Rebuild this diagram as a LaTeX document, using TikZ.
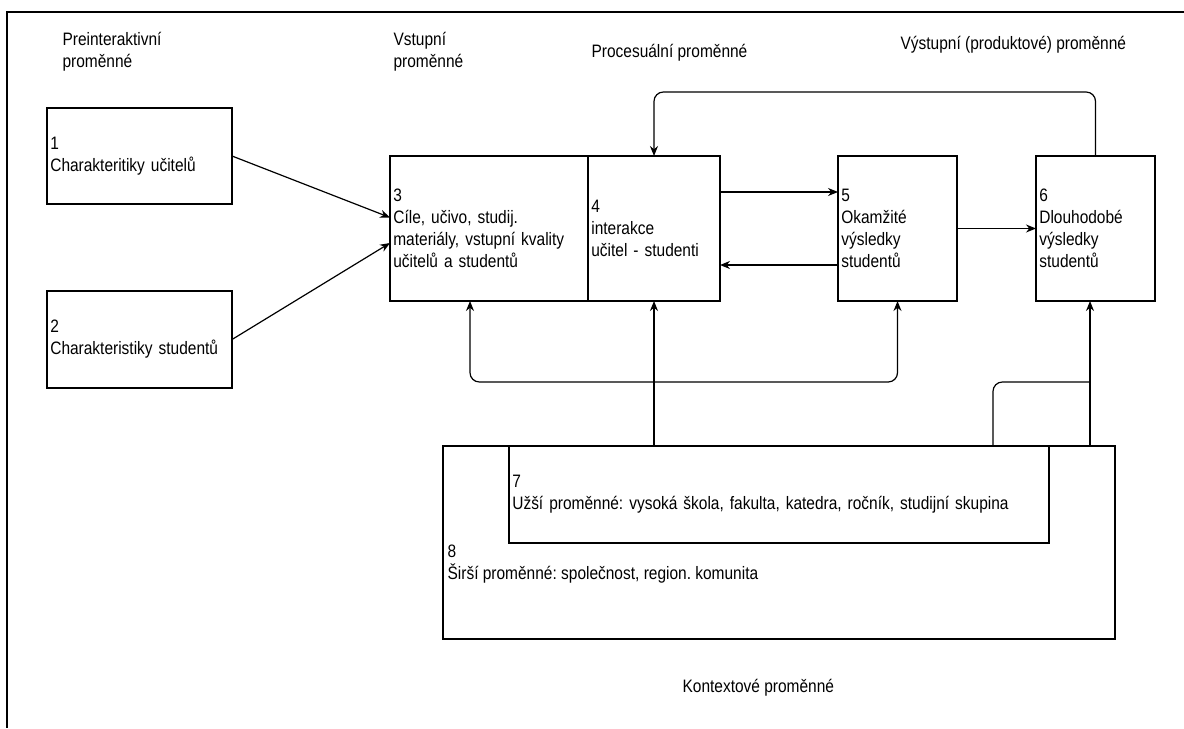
\documentclass[tikz,border=0pt]{standalone}
\usepackage{fontspec}
\setmainfont{Liberation Sans}[FakeStretch=0.86]
\frenchspacing
\usetikzlibrary{calc,positioning,arrows.meta}

\begin{document}
\begin{tikzpicture}[x=0.75pt,y=-0.75pt,line width=0.9pt,
  every node/.style={align=left,font=\fontsize{13.5}{16.5}\selectfont},
  box/.style={draw,rectangle,inner xsep=2.5pt,inner ysep=0pt,outer sep=0pt},
  caption/.style={anchor=west,inner sep=0pt},
  arr/.style={-{Stealth[length=7.5pt,width=6pt]}},
  dblarr/.style={{Stealth[length=7.5pt,width=6pt]}-{Stealth[length=7.5pt,width=6pt]}}]
\useasboundingbox (0,0) rectangle (1184,728);
\draw (1184,12) -- (7,12) -- (7,728);

% nadpisy skupin
\node [caption] (LabelPre) at (62,52) {Preinteraktivní\\proměnné};
\node [caption] (LabelInput) at (393,52) {Vstupní\\proměnné};
\node [caption] (LabelProcess) at (591,53) {Procesuální proměnné};
\node [caption] (LabelOutput) at (900,45) {Výstupní (produktové) proměnné};
\node [caption] (LabelContext) at (682,688) {Kontextové proměnné};

% promenne
\node [box,text width=133.75pt,minimum height=72pt] (Teachers) at (139.5,156) {1\\Charakteritiky učitelů};
\node [box,text width=133.75pt,minimum height=72.75pt] (Students) at (139.5,339.5) {2\\Charakteristiky studentů};
\node [box,text width=143.5pt,minimum height=108.75pt] (Inputs) at (489,228.5) {3\\Cíle, učivo, studij.\\materiály, vstupní kvality\\učitelů a studentů};
\node [box,text width=94pt,minimum height=108.75pt,right=0pt of Inputs] (Interaction) {4\\interakce\\učitel - studenti};
\node [box,text width=84.25pt,minimum height=108.75pt] (ShortResults) at (897.5,228.5) {5\\Okamžité\\výsledky\\studentů};
\node [box,text width=84.25pt,minimum height=108.75pt] (LongResults) at (1095.5,228.5) {6\\Dlouhodobé\\výsledky\\studentů};
\node [box,minimum width=504pt,minimum height=144.75pt] (WideContext) at (779,542.5) {};
\node [caption] (WideText) at ($(WideContext.west)+(4,22)$) {8\\Širší proměnné: společnost, region. komunita};
\node [box,fill=white,text width=400pt,minimum height=72.75pt] (NarrowContext) at (779,494.5) {7\\Užší proměnné: vysoká škola, fakulta, katedra, ročník, studijní skupina};

% vazby
\draw [arr] (Teachers.east) -- ($(Inputs.west)+(0,-11)$);
\draw [arr] (Students.east) -- ($(Inputs.west)+(0,14.5)$);
\draw [arr] ($(Interaction.east)+(0,-36.5)$) -- ($(ShortResults.west)+(0,-36.5)$);
\draw [arr] ($(ShortResults.west)+(0,36.5)$) -- ($(Interaction.east)+(0,36.5)$);
\draw [arr] (ShortResults.east) -- (LongResults.west);
\draw [arr,rounded corners=7pt] (LongResults.north) -- ++(0,-64) -| (Interaction.north);
\draw [dblarr,rounded corners=7pt] ($(Inputs.south)+(-19,0)$) |- ($(ShortResults.south)+(0,81)$) -- (ShortResults.south);
\draw [arr] (NarrowContext.north -| Interaction.south) -- (Interaction.south);
\coordinate (Merge) at ($(LongResults.south)+(-5.5,81)$);
\draw [arr] (WideContext.north -| Merge) -- (LongResults.south -| Merge);
\draw [rounded corners=7pt] ($(NarrowContext.north east)+(-56,0)$) |- (Merge);
\end{tikzpicture}
\end{document}
